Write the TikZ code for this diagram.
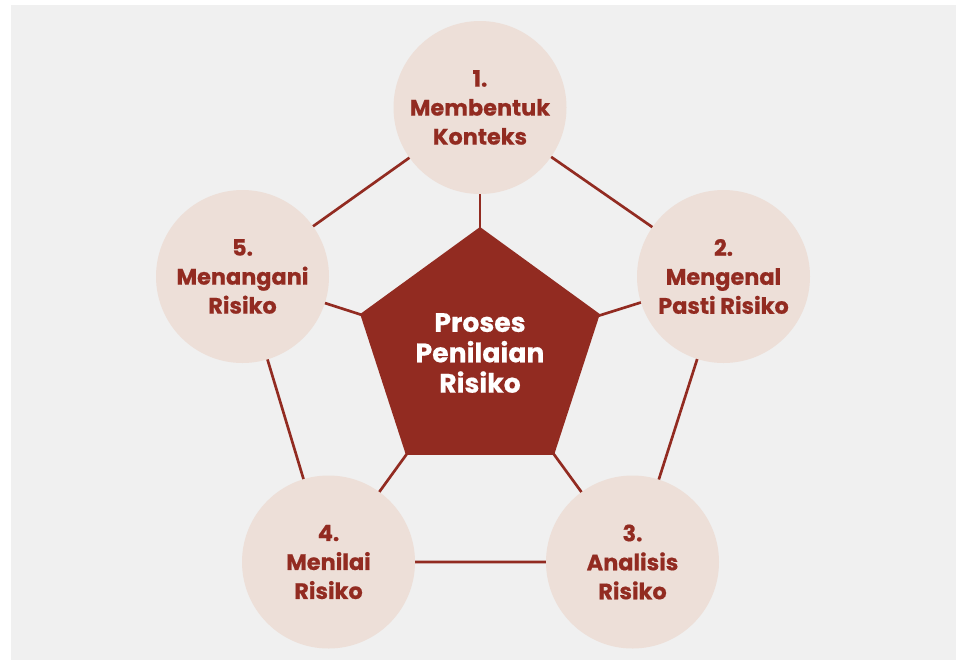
\documentclass[tikz,border=0pt]{standalone}
\usepackage{fontspec}
\setmainfont{Poppins}[BoldFeatures={FakeBold=0.6}]
\usepackage{xcolor}
\usepackage{tikz}
\usetikzlibrary{shapes.geometric, backgrounds}

\definecolor{riskred}{HTML}{922B21}
\definecolor{stagefill}{HTML}{EDDFD8}
\definecolor{canvasgray}{HTML}{F0F0F0}

\begin{document}
\begin{tikzpicture}[
  x=0.75pt, y=-0.75pt,
  stage/.style={circle, fill=stagefill, minimum size=129.75pt, inner sep=0pt,
                font=\bfseries\fontsize{16.8}{21.75}\selectfont,
                text=riskred, align=center,
                execute at begin node={\rule{0pt}{19pt}}},
  core/.style={regular polygon, regular polygon sides=5, fill=riskred,
               minimum size=189pt, inner sep=0pt,
               font=\bfseries\fontsize{20}{22.8}\selectfont,
               text=white, align=center},
  link/.style={draw=riskred, line width=2pt}
]
\useasboundingbox (0,0) rectangle (963,661);

\node[core] (proses) at (480,353) {Proses\\Penilaian\\Risiko};

\node[stage] (konteks)  at (480,107.5)   {1.\\Membentuk\\Konteks};
\node[stage] (kenal)    at (723.5,276.5) {2.\\Mengenal\\Pasti Risiko};
\node[stage] (analisis) at (632.5,562)   {3.\\Analisis\\Risiko};
\node[stage] (nilai)    at (328.5,562)   {4.\\Menilai\\Risiko};
\node[stage] (tangani)  at (242.5,276.5) {5.\\Menangani\\Risiko};

% canvas and links behind the nodes
\begin{scope}[on background layer]
  \fill[canvasgray] (11,5) rectangle (956,660);
  \draw[link] (konteks.center) -- (kenal.center) -- (analisis.center)
              -- (nilai.center) -- (tangani.center) -- cycle;
  \foreach \s in {konteks, kenal, analisis, nilai, tangani}
    \draw[link] (\s.center) -- (proses.center);
\end{scope}
\end{tikzpicture}
\end{document}
